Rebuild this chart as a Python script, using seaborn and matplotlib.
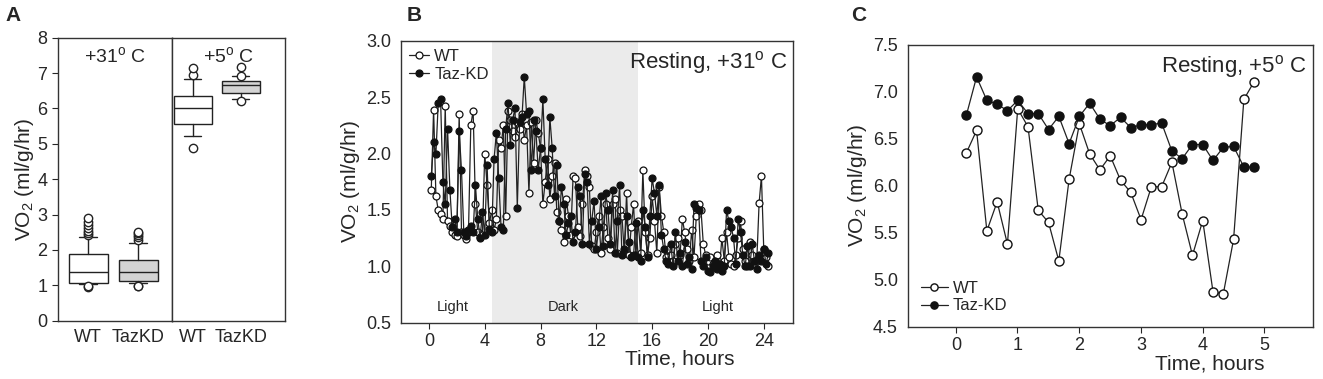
import numpy as np
import pandas as pd
import seaborn as sns
import matplotlib.pyplot as plt

# panel A: box summaries (10th/90th percentile whiskers)
box_groups = ['WT', 'TazKD']
box_med_31 = [1.39, 1.39]
box_q1_31 = [1.08, 1.13]
box_q3_31 = [1.88, 1.72]
box_lo_31 = [1.03, 1.07]
box_hi_31 = [2.36, 2.19]
box_out_31 = [[0.96, 0.98, 2.42, 2.48, 2.55, 2.62, 2.70, 2.80, 2.89],
              [0.98, 0.99, 2.28, 2.36, 2.42, 2.47, 2.50]]
box_med_5 = [6.01, 6.67]
box_q1_5 = [5.57, 6.43]
box_q3_5 = [6.36, 6.79]
box_lo_5 = [5.22, 6.28]
box_hi_5 = [6.83, 6.92]
box_out_5 = [[4.88, 6.95, 7.13], [6.22, 6.93, 7.18]]

# panel B: resting VO2 at +31 C, one reading every 10 min
wt_31 = [1.68, 2.39, 1.62, 1.50, 1.46, 1.42,
         2.42, 1.40, 1.36, 1.30, 1.28, 1.27,
         2.35, 1.30, 1.28, 1.24, 1.30, 2.25,
         2.38, 1.55, 1.30, 1.26, 1.28, 2.00,
         1.72, 1.38, 1.50, 1.32, 1.42, 2.12,
         2.05, 2.25, 1.45, 2.38, 2.30, 2.20,
         2.15, 2.28, 2.22, 2.35, 2.12, 2.25,
         1.65, 2.28, 1.92, 2.30, 2.18, 2.05,
         1.55, 1.75, 1.95, 1.60, 1.80, 1.92,
         1.48, 1.40, 1.32, 1.22, 1.60, 1.45,
         1.28, 1.80, 1.78, 1.35, 1.27, 1.55,
         1.85, 1.80, 1.70, 1.18, 1.15, 1.30,
         1.45, 1.12, 1.35, 1.55, 1.25, 1.15,
         1.55, 1.60, 1.12, 1.50, 1.45, 1.12,
         1.65, 1.10, 1.35, 1.55, 1.10, 1.40,
         1.12, 1.85, 1.30, 1.10, 1.25, 1.62,
         1.40, 1.12, 1.70, 1.45, 1.30, 1.08,
         1.15, 1.10, 1.05, 1.20, 1.25, 1.10,
         1.42, 1.30, 1.15, 1.05, 1.32, 1.08,
         1.45, 1.55, 1.50, 1.20, 1.10, 1.05,
         1.08, 1.02, 1.05, 1.10, 1.00, 1.25,
         1.05, 1.30, 1.08, 1.02, 1.00, 1.10,
         1.25, 1.40, 1.15, 1.05, 1.00, 1.22,
         1.10, 1.02, 1.05, 1.56, 1.80, 1.15,
         1.08, 1.00]
kd_31 = [1.80, 2.10, 2.00, 2.45, 2.48, 1.75,
         1.55, 2.22, 1.68, 1.35, 1.42, 1.30,
         2.20, 1.85, 1.30, 1.27, 1.32, 1.36,
         1.30, 1.72, 1.42, 1.25, 1.48, 1.28,
         1.90, 1.33, 1.30, 1.95, 2.18, 1.78,
         1.35, 1.32, 2.22, 2.45, 2.08, 2.30,
         2.40, 1.52, 2.28, 2.32, 2.68, 2.35,
         2.38, 1.85, 2.30, 2.20, 1.85, 2.05,
         2.48, 1.95, 1.72, 2.32, 2.05, 1.62,
         1.90, 1.40, 1.70, 1.55, 1.28, 1.38,
         1.45, 1.22, 1.30, 1.70, 1.62, 1.20,
         1.82, 1.75, 1.20, 1.40, 1.58, 1.15,
         1.35, 1.62, 1.18, 1.65, 1.50, 1.20,
         1.68, 1.12, 1.40, 1.72, 1.10, 1.15,
         1.45, 1.22, 1.08, 1.10, 1.38, 1.08,
         1.05, 1.50, 1.35, 1.08, 1.45, 1.78,
         1.65, 1.45, 1.72, 1.28, 1.15, 1.05,
         1.02, 1.20, 1.00, 1.30, 1.05, 1.12,
         1.00, 1.22, 1.02, 1.08, 0.98, 1.55,
         1.52, 1.50, 1.05, 1.00, 1.08, 0.96,
         0.95, 1.00, 1.05, 0.98, 1.02, 0.96,
         1.00, 1.50, 1.40, 1.35, 1.25, 1.02,
         1.42, 1.30, 1.10, 1.00, 1.18, 1.00,
         1.20, 1.05, 0.98, 1.10, 1.05, 1.15,
         1.02, 1.12]
hours_31 = np.arange(len(wt_31)) / 6 + 0.17

# panel C: resting VO2 at +5 C
wt_5 = [6.35, 6.59, 5.52, 5.83, 5.38, 6.82, 6.63, 5.74, 5.61, 5.20,
        6.07, 6.66, 6.34, 6.17, 6.32, 6.06, 5.93, 5.64, 5.99, 5.99,
        6.25, 5.70, 5.26, 5.63, 4.87, 4.85, 5.43, 6.92, 7.11]
kd_5 = [6.75, 7.16, 6.91, 6.87, 6.80, 6.91, 6.77, 6.77, 6.60, 6.74,
        6.45, 6.74, 6.88, 6.71, 6.64, 6.73, 6.62, 6.65, 6.65, 6.67,
        6.37, 6.29, 6.44, 6.44, 6.27, 6.41, 6.42, 6.20, 6.20]
hours_5 = np.arange(len(wt_5)) / 6 + 0.17

dark_start, dark_end = 4.5, 15.0

sns.set_style('white')
plt.rcParams['font.family'] = ['Liberation Sans', 'DejaVu Sans']
plt.rcParams['mathtext.fontset'] = 'custom'
plt.rcParams['mathtext.rm'] = 'Liberation Sans'

fig = plt.figure(figsize=(13.23, 3.79), dpi=100)
ax_a1 = fig.add_axes([0.0436, 0.1538, 0.0862, 0.7467])
ax_a2 = fig.add_axes([0.1298, 0.1538, 0.0856, 0.7467], sharey=ax_a1)
ax_b = fig.add_axes([0.3031, 0.1485, 0.2963, 0.744])
ax_c = fig.add_axes([0.6861, 0.138, 0.3063, 0.7433])

line_kw = dict(color='#222222', linewidth=0.9)
ink = '#222222'
box_fill = ['white', '#d4d4d4']

# panel A
for ax, med, q1, q3, lo, hi, outs, title in [
        (ax_a1, box_med_31, box_q1_31, box_q3_31, box_lo_31, box_hi_31, box_out_31, '+31$^{\\mathrm{o}}$ C'),
        (ax_a2, box_med_5, box_q1_5, box_q3_5, box_lo_5, box_hi_5, box_out_5, '+5$^{\\mathrm{o}}$ C')]:
    stats = [dict(med=med[i], q1=q1[i], q3=q3[i], whislo=lo[i], whishi=hi[i],
                  fliers=outs[i], label=box_groups[i]) for i in range(2)]
    bp = ax.bxp(stats, positions=[0, 1], widths=0.78, patch_artist=True,
                boxprops=dict(edgecolor=ink, linewidth=1.0),
                medianprops=dict(color=ink, linewidth=1.0),
                whiskerprops=dict(color=ink, linewidth=1.0),
                capprops=dict(color=ink, linewidth=1.0),
                flierprops=dict(marker='o', markerfacecolor='white', markeredgecolor=ink,
                                markersize=6, markeredgewidth=1.0),
                capwidths=0.36)
    for patch, fc in zip(bp['boxes'], box_fill):
        patch.set_facecolor(fc)
    ax.text(0.5, 0.97, title, transform=ax.transAxes, ha='center', va='top', fontsize=14)
    ax.tick_params(axis='x', labelsize=13, length=0, pad=6)
ax_a1.set_xlim(-0.61, 1.67)
ax_a2.set_xlim(-0.44, 1.92)
ax_a1.set_ylim(0, 8)
ax_a1.set_yticks(range(0, 9))
ax_a1.set_ylabel('VO$_2$ (ml/g/hr)', fontsize=15, labelpad=1)
ax_a1.tick_params(axis='y', labelsize=13, direction='out', length=4, left=True)
ax_a2.tick_params(axis='y', left=False, labelleft=False)

# panel B
ax_b.axvspan(dark_start, dark_end, color='#ebebeb', zorder=0, lw=0)
sns.lineplot(x=hours_31, y=wt_31, marker='o', markersize=5, markerfacecolor='white',
             markeredgecolor='#111111', markeredgewidth=0.9, label='WT', ax=ax_b, **line_kw)
sns.lineplot(x=hours_31, y=kd_31, marker='o', markersize=5, markerfacecolor='#111111',
             markeredgecolor='#111111', markeredgewidth=0.9, label='Taz-KD', ax=ax_b, **line_kw)
ax_b.set_xlim(-2, 26.1)
ax_b.set_ylim(0.5, 3.0)
ax_b.set_xticks([0, 4, 8, 12, 16, 20, 24])
ax_b.set_yticks([0.5, 1.0, 1.5, 2.0, 2.5, 3.0])
ax_b.set_yticklabels(['0.5', '1.0', '1.5', '2.0', '2.5', '3.0'])
ax_b.text(0.985, 0.97, 'Resting, +31$^{\\mathrm{o}}$ C', transform=ax_b.transAxes,
          ha='right', va='top', fontsize=16)
for x_lab, lab in [(1.7, 'Light'), (9.6, 'Dark'), (20.7, 'Light')]:
    ax_b.text(x_lab, 0.64, lab, ha='center', va='center', fontsize=10.5)
ax_b.legend(loc='upper left', frameon=False, fontsize=12, handlelength=1.2,
            handletextpad=0.3, borderaxespad=0.1, labelspacing=0.15)
ax_b.set_xlabel('Time, hours', fontsize=15, labelpad=0)
ax_b.xaxis.set_label_coords(0.71, -0.095)
ax_b.set_ylabel('VO$_2$ (ml/g/hr)', fontsize=15, labelpad=3)

# panel C
sns.lineplot(x=hours_5, y=wt_5, marker='o', markersize=6.5, markerfacecolor='white',
             markeredgecolor='#111111', markeredgewidth=1.0, label='WT', ax=ax_c, **line_kw)
sns.lineplot(x=hours_5, y=kd_5, marker='o', markersize=6.5, markerfacecolor='#111111',
             markeredgecolor='#111111', markeredgewidth=1.0, label='Taz-KD', ax=ax_c, **line_kw)
ax_c.set_xlim(-0.78, 5.79)
ax_c.set_ylim(4.5, 7.5)
ax_c.set_xticks([0, 1, 2, 3, 4, 5])
ax_c.set_yticks([4.5, 5.0, 5.5, 6.0, 6.5, 7.0, 7.5])
ax_c.set_yticklabels(['4.5', '5.0', '5.5', '6.0', '6.5', '7.0', '7.5'])
ax_c.text(0.985, 0.97, 'Resting, +5$^{\\mathrm{o}}$ C', transform=ax_c.transAxes,
          ha='right', va='top', fontsize=16)
ax_c.legend(loc='lower left', frameon=False, fontsize=12, handlelength=1.6,
            handletextpad=0.3, borderaxespad=0.4, labelspacing=0.15, markerscale=0.8)
ax_c.set_xlabel('Time, hours', fontsize=15, labelpad=0)
ax_c.xaxis.set_label_coords(0.746, -0.1)
ax_c.set_ylabel('VO$_2$ (ml/g/hr)', fontsize=15, labelpad=3)

for ax in [ax_b, ax_c]:
    ax.tick_params(axis='both', labelsize=13, direction='out', length=4,
                   bottom=True, left=False)
    ax.tick_params(axis='y', left=False, pad=3)

for ax in [ax_a1, ax_a2, ax_b, ax_c]:
    for sp in ax.spines.values():
        sp.set_color('#333333')
        sp.set_linewidth(1.0)

fig.text(0.004, 0.985, 'A', fontsize=15, fontweight='bold', va='top')
fig.text(0.307, 0.985, 'B', fontsize=15, fontweight='bold', va='top')
fig.text(0.643, 0.985, 'C', fontsize=15, fontweight='bold', va='top')

fig.savefig('out.png', dpi=100)
